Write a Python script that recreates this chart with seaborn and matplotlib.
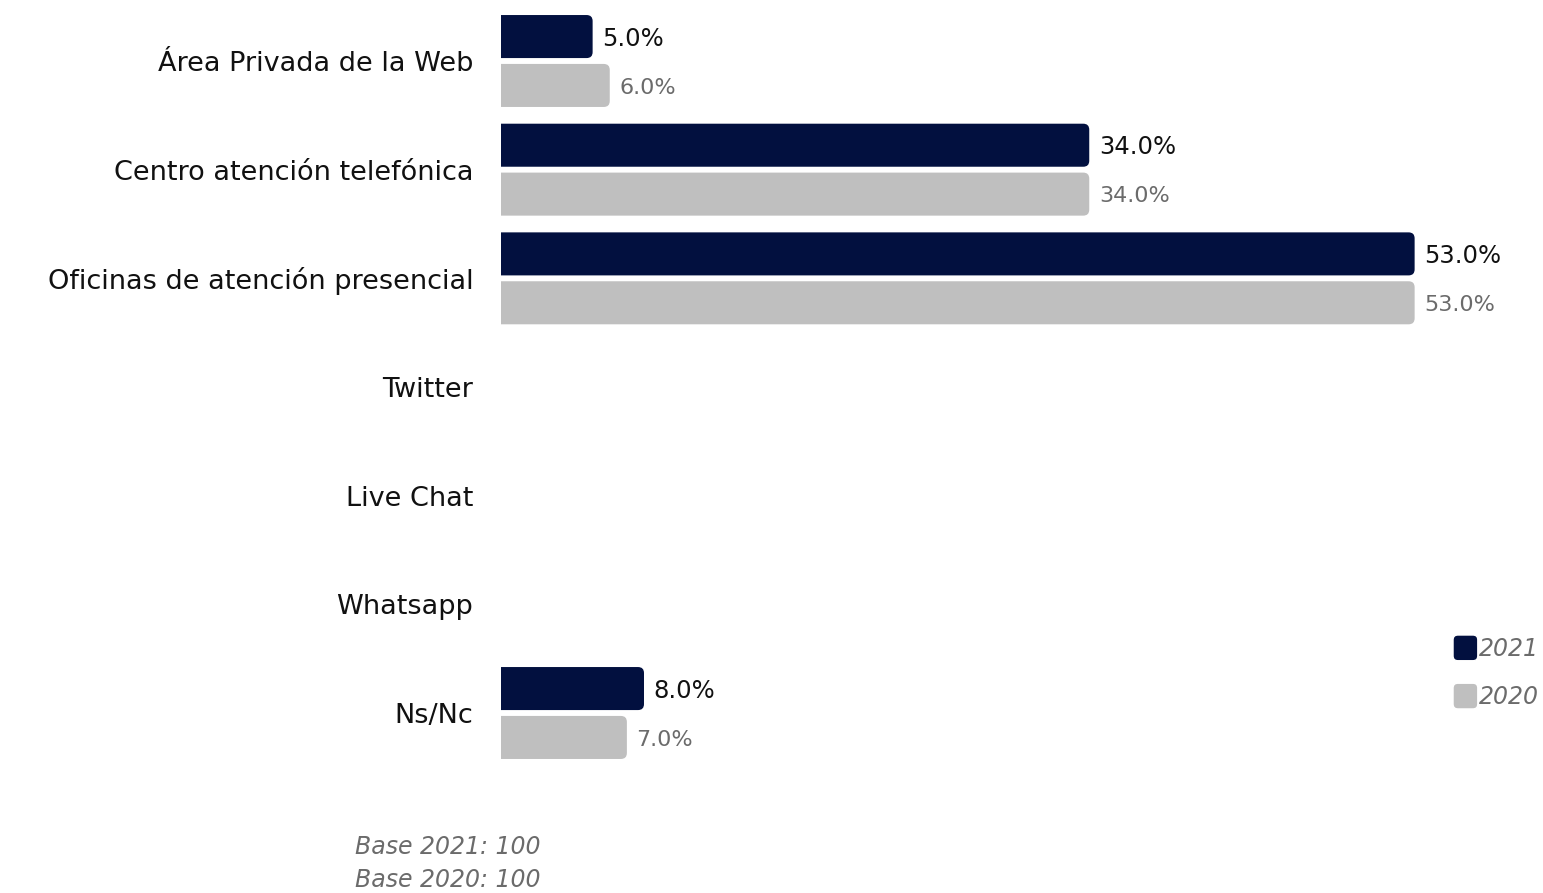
import numpy as np
import pandas as pd
import matplotlib
matplotlib.use("Agg")
import matplotlib.pyplot as plt
from matplotlib.patches import FancyBboxPatch
from matplotlib.legend_handler import HandlerPatch
import seaborn as sns

categories = [
    "Área Privada de la Web",
    "Centro atención telefónica",
    "Oficinas de atención presencial",
    "Twitter",
    "Live Chat",
    "Whatsapp",
    "Ns/Nc",
]
values_2021 = [5.0, 34.0, 53.0, np.nan, np.nan, np.nan, 8.0]
values_2020 = [6.0, 34.0, 53.0, np.nan, np.nan, np.nan, 7.0]
years = ["2021", "2020"]
footnotes = ["Base 2021: 100", "Base 2020: 100"]

NAVY = "#02103f"
GREY = "#bfbfbf"
TEXT_GREY = "#6b6b6b"

df = pd.DataFrame({
    "canal": categories * 2,
    "valor": values_2021 + values_2020,
    "año": [years[0]] * len(categories) + [years[1]] * len(categories),
})

sns.set_theme(style="white")
plt.rcParams["font.family"] = ["DejaVu Sans"]

W, H, DPI = 1543, 893, 100
fig = plt.figure(figsize=(W / DPI, H / DPI), dpi=DPI)
ax_left, ax_right = 501, 1450
ax_top, ax_bottom = 0, 790
ax = fig.add_axes([ax_left / W, 1 - ax_bottom / H,
                   (ax_right - ax_left) / W, (ax_bottom - ax_top) / H])

sns.barplot(data=df, y="canal", x="valor", hue="año", order=categories,
            hue_order=years, palette=[NAVY, GREY], orient="h",
            width=0.9, gap=0.12, saturation=1, legend=True, ax=ax)

px_per_x = 17.125
xmin = -6 / px_per_x
xmax = xmin + (ax_right - ax_left) / px_per_x
ax.set_xlim(xmin, xmax)
px_per_y = 108.67
ax.set_ylim(6 + (ax_bottom - 713) / px_per_y, -61 / px_per_y)

# value labels, nudged slightly below the bar centre
label_styles = [dict(color="#111111", fontsize=17.5), dict(color=TEXT_GREY, fontsize=16)]
for cont, st in zip(ax.containers, label_styles):
    labels = ax.bar_label(cont, fmt="%.1f%%", padding=7, **st)
    for t in labels:
        t.xyann = (7, -1.5)

# rounded bars: flat at the left edge of the plot, rounded at the end
radius = 6 / px_per_x
aspect = px_per_x / px_per_y
for cont in ax.containers:
    for bar in cont:
        y0 = bar.get_y()
        w, h = bar.get_width(), bar.get_height()
        if np.isnan(w):
            continue
        start = xmin - 2 * radius
        rp = FancyBboxPatch((start, y0), w - start, h,
                            boxstyle=f"round,pad=0,rounding_size={radius}",
                            mutation_aspect=aspect,
                            facecolor=bar.get_facecolor(), edgecolor="none",
                            clip_on=True)
        ax.add_patch(rp)
        bar.set_visible(False)

ax.set_xlabel("")
ax.set_ylabel("")
ax.set_xticks([])
ax.tick_params(axis="y", length=0, pad=20, labelsize=19.5, labelcolor="#111111")
for s in ax.spines.values():
    s.set_visible(False)


def rounded_handle(legend, orig_handle, xdescent, ydescent, width, height, fontsize):
    return FancyBboxPatch((-xdescent, -ydescent), width, height,
                          boxstyle="round,pad=0,rounding_size=3.5")


handles, labels = ax.get_legend_handles_labels()
leg = ax.legend(handles, labels, loc="upper right",
                bbox_to_anchor=(1539 / W, 1 - 635 / H),
                bbox_transform=fig.transFigure, frameon=False,
                handlelength=1.05, handleheight=1.3, handletextpad=0.05,
                labelspacing=0.95, borderaxespad=0, borderpad=0,
                handler_map={matplotlib.patches.Rectangle: HandlerPatch(patch_func=rounded_handle)},
                prop={"style": "italic", "size": 17})
for t in leg.get_texts():
    t.set_color(TEXT_GREY)

for i, txt in enumerate(footnotes):
    fig.text(355 / W, 1 - (847 + 33 * i) / H, txt, ha="left", va="center",
             fontsize=17, style="italic", color=TEXT_GREY)

fig.savefig("out.png", dpi=DPI, facecolor="white")
